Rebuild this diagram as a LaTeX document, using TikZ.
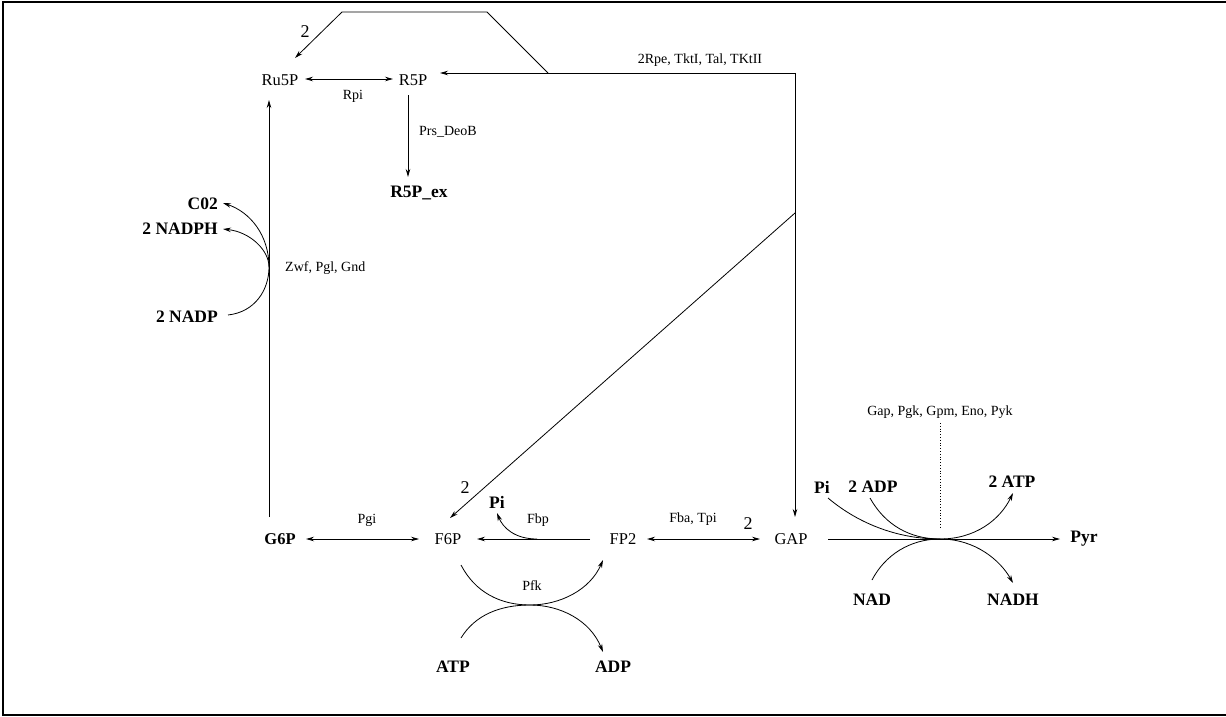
\documentclass[tikz,border=0pt]{standalone}
\usepackage{fontspec}
\setmainfont{Liberation Serif}
\usepackage{tikz}
\usetikzlibrary{arrows.meta,positioning,calc}

\begin{document}
\begin{tikzpicture}[x=1pt, y=-1pt,
    met/.style={font=\fontsize{16.5}{18}\selectfont, inner sep=0pt},
    cof/.style={font=\fontsize{17.5}{19}\selectfont\bfseries, inner sep=0pt},
    enz/.style={font=\fontsize{14}{16}\selectfont, inner sep=0pt},
    num/.style={font=\fontsize{18}{20}\selectfont, inner sep=0pt},
    rxn/.style={-{Stealth[length=8pt,width=4.5pt]}, line width=0.8pt},
    both/.style={{Stealth[length=8pt,width=4.5pt]}-{Stealth[length=8pt,width=4.5pt]}, line width=0.8pt},
    plain/.style={line width=0.8pt}]
    \useasboundingbox (0,0) rectangle (1226,717);
    \draw[line width=1.2pt] (1226,2) -- (3,2) -- (3,715) -- (1226,715);
    % metabolites
    \node[met] (Ru5P) at (280,80) {Ru5P};
    \node[met] (R5P) at (413,80) {R5P};
    \node[cof] (R5Pex) at (419,193) {R5P\_ex};
    \node[met] (G6Pn) at (280,539) {\bfseries G6P};
    \node[met] (F6P) at (448,539) {F6P};
    \node[met] (FP2) at (623,539) {FP2};
    \node[met] (GAP) at (791,539) {GAP};
    \node[cof] (Pyr) at (1084,539) {Pyr};
    \node[cof, anchor=east] (C02) at (218,204) {C02};
    \node[cof, anchor=east] (NADPH) at (218,229) {2 NADPH};
    \node[cof, anchor=east] (NADP) at (218,317) {2 NADP};
    \node[cof] (Pi1) at (497,502) {Pi};
    \node[cof] (ATP) at (453,667) {ATP};
    \node[cof] (ADP) at (613,667) {ADP};
    \node[cof] (Pi2) at (822,487) {Pi};
    \node[cof] (ADP2) at (873,487) {2 ADP};
    \node[cof] (ATP2) at (1012,482) {2 ATP};
    \node[cof] (NAD) at (872,600) {NAD};
    \node[cof] (NADH) at (1013,600) {NADH};
    % enzymes and stoichiometry
    \node[enz] (rpi) at (353,96) {Rpi};
    \node[enz, anchor=west] (prs) at (419,132) {Prs\_DeoB};
    \node[enz] (tktlbl) at (700,60) {2Rpe, TktI, Tal, TKtII};
    \node[enz, anchor=west] (zwflbl) at (285,268) {Zwf, Pgl, Gnd};
    \node[enz] (pgi) at (367,520) {Pgi};
    \node[enz] (fbplbl) at (538,520) {Fbp};
    \node[enz] (pfklbl) at (532,586) {Pfk};
    \node[enz] (fba) at (693,519) {Fba, Tpi};
    \node[enz] (glyclbl) at (940,412) {Gap, Pgk, Gpm, Eno, Pyk};
    \node[num] (twoA) at (305,32) {2};
    \node[num] (twoB) at (465,488) {2};
    \node[num] (twoC) at (748,524) {2};
    % junctions
    \coordinate (tkt) at (795,73);
    \coordinate (turn) at (548,73);
    \coordinate (bendR) at (487,12);
    \coordinate (bendL) at (342,12);
    \coordinate (diag) at (795,213);
    \coordinate (zwf) at (269,267);
    \coordinate (fbp) at (537,539);
    \coordinate (pfk) at (530,605);
    \coordinate (glyc) at (940,539);
    % pentose phosphate
    \draw[both] ($(Ru5P)+(25,-1)$) -- ($(R5P)+(-20,-1)$);
    \draw[rxn] ($(R5P)+(-5,15)$) -- ($(R5Pex)+(-11,-16)$);
    \draw[rxn] (tkt) -- ($(R5P)+(27,-7)$);
    \draw[rxn] (turn) -- (bendR) -- (bendL) -- ($(Ru5P)+(15,-22)$);
    \draw[rxn] (tkt) -- ($(GAP)+(4,-22)$);
    \draw[rxn] (diag) -- ($(F6P)+(2,-21)$);
    \draw[rxn] ($(G6Pn)+(-11,-22)$) -- ($(Ru5P)+(-11,20)$);
    \draw[plain] ($(NADP.east)+(10,-2)$) .. controls (255,312) and (269,290) .. (zwf);
    \draw[rxn] (zwf) .. controls (269,235) and (250,212) .. ($(C02.east)+(5,-1)$);
    \draw[rxn] (zwf) .. controls (269,250) and (250,232) .. ($(NADPH.east)+(5,0)$);
    % glycolysis
    \draw[both] ($(G6Pn)+(26,0)$) -- ($(F6P)+(-29,0)$);
    \draw[rxn] ($(FP2)+(-33,0)$) -- ($(F6P)+(29,0)$);
    \draw[rxn] (fbp) .. controls (515,539) and (503,528) .. ($(Pi1)+(0,11)$);
    \draw[rxn] ($(F6P)+(13,26)$) .. controls (475,592) and (500,605) .. (pfk)
        .. controls (560,605) and (590,590) .. ($(FP2)+(-20,21)$);
    \draw[rxn] ($(ATP)+(8,-29)$) .. controls (475,615) and (500,605) .. (pfk)
        .. controls (560,605) and (590,620) .. ($(ADP)+(-10,-15)$);
    \draw[both] ($(FP2)+(24,0)$) -- ($(GAP)+(-31,0)$);
    \draw[rxn] ($(GAP)+(37,0)$) -- ($(Pyr)+(-24,0)$);
    \draw[dotted, line width=0.8pt] ($(glyclbl)+(0,11)$) -- ($(glyc)+(0,-12)$);
    \draw[plain] ($(Pi2)+(6,11)$) .. controls (860,525) and (900,539) .. (glyc);
    \draw[plain] ($(ADP2)+(-3,11)$) .. controls (885,525) and (910,539) .. (glyc);
    \draw[plain] ($(NAD)+(0,-20)$) .. controls (885,555) and (910,539) .. (glyc);
    \draw[rxn] (glyc) .. controls (975,539) and (1000,520) .. ($(ATP2)+(1,11)$);
    \draw[rxn] (glyc) .. controls (975,539) and (1000,560) .. ($(NADH)+(0,-17)$);
\end{tikzpicture}
\end{document}
